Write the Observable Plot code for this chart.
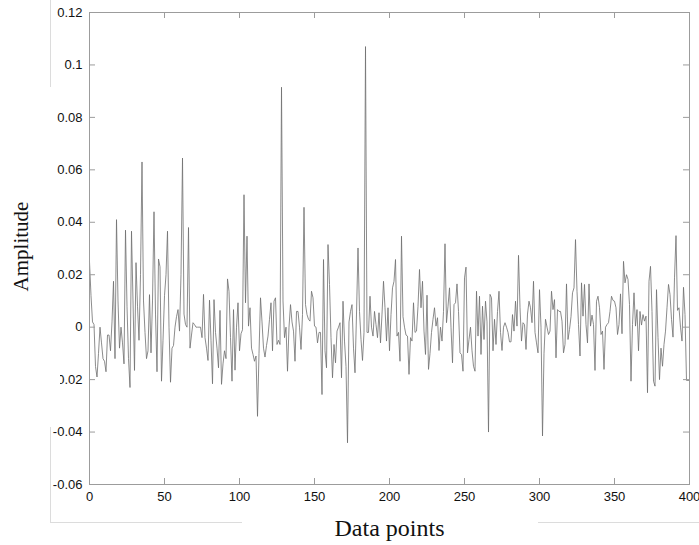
<!DOCTYPE html>
<html>
<head>
<meta charset="utf-8">
<script src="https://cdn.jsdelivr.net/npm/d3@7"></script>
<script src="https://cdn.jsdelivr.net/npm/@observablehq/plot@0.6"></script>
<style>
  html, body { margin: 0; padding: 0; background: #fff; }
</style>
</head>
<body>
<div id="chart"></div>
<script>
// Amplitude of each data point (index 0..400)
const amplitude = [
  0.025, 0.012, 0.002, 0.001, -0.015, -0.019, -0.01, 0.0, -0.006, -0.012,
  -0.013, -0.017, -0.003, -0.003, -0.009, 0.002, 0.0175, -0.012, 0.041, 0.01,
  -0.008, 0.0, -0.006, -0.014, 0.037, 0.008, -0.012, -0.023, 0.0366, 0.01,
  -0.0165, 0.0246, 0.008, -0.005, 0.02, 0.063, 0.01, -0.002, -0.012, -0.009,
  0.0124, -0.0098, 0.01, 0.044, 0.005, -0.017, 0.026, 0.023, -0.0206, -0.005,
  0.012, 0.02, 0.0366, 0.0, -0.021, -0.008, -0.007, 0.0, 0.004, 0.0067,
  -0.0015, 0.02, 0.0645, 0.005, 0.001, 0.0, 0.038, -0.008, -0.003, 0.0017,
  0.001, 0.0, 0.0, 0.0, 0.0, -0.004, 0.0125, -0.004, -0.008, -0.0127,
  0.0103, -0.005, -0.0216, 0.0105, -0.002, -0.008, -0.0155, 0.0064, -0.0218, -0.014,
  -0.009, -0.012, 0.0184, 0.0137, -0.004, -0.0206, 0.0067, -0.0164, 0.0, 0.0093,
  -0.009, -0.0025, -0.001, 0.0505, 0.0093, 0.0347, 0.0004, 0.0074, -0.008, -0.0104,
  -0.013, -0.011, -0.034, -0.01, 0.0112, 0.002, -0.008, -0.0114, -0.007, -0.0034,
  0.003, 0.0093, -0.009, 0.0099, 0.0112, -0.0066, -0.005, -0.0066, 0.0915, 0.01,
  -0.004, 0.0, -0.0168, 0.0, 0.0086, 0.002, -0.0015, -0.013, 0.006, 0.006,
  0.0, -0.0085, 0.0048, 0.0457, 0.0086, 0.0048, 0.003, 0.0023, 0.0137, 0.0112,
  0.0004, 0.0, -0.006, -0.002, -0.002, -0.0257, 0.0258, -0.009, -0.0155, 0.0315,
  0.0163, -0.004, -0.0193, -0.0066, -0.0136, -0.0015, 0.0, 0.0017, -0.0193, 0.0099,
  -0.0053, -0.015, -0.0441, 0.002, 0.006, 0.0086, -0.008, -0.0174, 0.005, 0.0302,
  0.006, -0.0047, -0.0127, -0.002, 0.107, -0.002, -0.002, 0.0118, 0.0, -0.0034,
  0.006, 0.001, -0.004, 0.0055, -0.006, 0.005, 0.0175, 0.0074, -0.0053, 0.0074,
  -0.009, 0.0048, 0.015, 0.0175, 0.0258, -0.0034, -0.002, -0.013, 0.0347, 0.004,
  0.0, -0.003, -0.0034, -0.018, -0.004, -0.0053, 0.0093, -0.002, -0.0015, 0.008,
  0.022, 0.0074, 0.0175, -0.0015, -0.0104, 0.0122, -0.0161, -0.01, -0.002, 0.003,
  0.0074, 0.0004, 0.0036, -0.0089, 0.0, -0.0053, 0.006, 0.0318, 0.0017, 0.008,
  0.015, 0.0, -0.0136, 0.0086, 0.0093, 0.0165, 0.006, -0.0098, -0.0104, -0.0168,
  0.0188, 0.0229, -0.0098, -0.0047, 0.0, -0.009, -0.0149, -0.0168, 0.0137, -0.0034,
  0.0118, -0.0104, 0.008, -0.0047, 0.0099, 0.002, -0.04, 0.0125, 0.0112, -0.009,
  0.003, -0.0066, 0.006, 0.0137, -0.002, -0.0089, 0.0, 0.0017, 0.0, -0.002,
  -0.0056, -0.0056, 0.0048, -0.0015, 0.0099, 0.0004, 0.0274, 0.0074, -0.0053, 0.0017,
  0.001, -0.0085, 0.005, 0.0099, 0.0074, 0.0017, 0.0175, -0.002, -0.006, -0.0098,
  0.0143, 0.0, -0.0415, -0.01, 0.003, 0.0, -0.0028, -0.0015, 0.0137, 0.0067,
  0.0105, -0.0117, 0.0067, 0.006, 0.006, 0.0023, -0.0098, -0.0066, 0.0165, -0.0047,
  -0.0009, 0.004, 0.0131, 0.015, 0.0334, 0.0137, 0.001, -0.011, 0.0169, 0.0042,
  0.0163, 0.001, -0.006, 0.0165, 0.0004, 0.0046, 0.001, -0.0165, 0.0099, 0.0118,
  0.0074, -0.0028, -0.0015, -0.0161, 0.0, 0.001, 0.0017, 0.006, 0.0118, 0.0102,
  0.0099, 0.0074, -0.0028, 0.001, 0.0127, -0.0025, 0.0251, 0.0169, 0.02, 0.0182,
  0.0086, -0.0206, 0.001, 0.0131, 0.0004, 0.0067, -0.009, 0.006, 0.0008, 0.0048,
  0.0023, 0.0042, -0.025, 0.0175, 0.0232, 0.006, -0.0206, -0.0225, 0.0143, -0.004,
  -0.02, -0.008, -0.0149, -0.0066, -0.0015, 0.0074, 0.0163, 0.0125, 0.003, -0.0038,
  0.0188, 0.0349, 0.0064, 0.0074, 0.0, -0.0053, 0.0152, 0.0048, -0.0203, -0.0203,
  -0.0203
];

const xDomain = [0, 400];
const yDomain = [-0.06, 0.12];
const xTicks = [0, 50, 100, 150, 200, 250, 300, 350, 400];
const yTicks = [-0.06, -0.04, -0.02, 0, 0.02, 0.04, 0.06, 0.08, 0.1, 0.12];
const yTickLabels = ["-0.06", "-0.04", "-0.02", "0", "0.02", "0.04", "0.06", "0.08", "0.1", "0.12"];
const xLabel = "Data points";
const yLabel = "Amplitude";

const points = amplitude.map((v, i) => ({index: i, value: v}));

const axisColor = "#9c9c9c";
const tickLen = 6;
const serif = "'Liberation Serif', 'DejaVu Serif', serif";

const chart = Plot.plot({
  width: 699,
  height: 545,
  marginLeft: 89,
  marginRight: 10,
  marginTop: 12,
  marginBottom: 61,
  style: {
    fontFamily: "'Liberation Sans', Arial, sans-serif",
    fontSize: "13px",
    color: "#111",
    background: "#fff"
  },
  x: {domain: xDomain, ticks: xTicks, tickSize: 0, tickPadding: 7, label: null, tickFormat: d => String(d)},
  y: {domain: yDomain, ticks: yTicks, tickSize: 0, tickPadding: 7, label: null,
      tickFormat: d => yTickLabels[yTicks.indexOf(d)]},
  marks: [
    Plot.line(points, {x: "index", y: "value", stroke: "#6e6e6e", strokeWidth: 0.8}),
    Plot.frame({stroke: axisColor}),
    // inward ticks, bottom and top
    Plot.ruleX(xTicks, {x: d => d, y1: yDomain[0], y2: yDomain[0], insetBottom: tickLen, stroke: axisColor}),
    Plot.ruleX(xTicks, {x: d => d, y1: yDomain[1], y2: yDomain[1], insetBottom: -tickLen, stroke: axisColor}),
    // inward ticks, left and right
    Plot.ruleY(yTicks, {y: d => d, x1: xDomain[0], x2: xDomain[0], insetRight: -tickLen, stroke: axisColor}),
    Plot.ruleY(yTicks, {y: d => d, x1: xDomain[1], x2: xDomain[1], insetRight: tickLen, stroke: axisColor}),
    Plot.text([xLabel], {frameAnchor: "bottom", textAnchor: "middle", dy: 51, fontFamily: serif, fontSize: 24, fill: "#111"}),
    Plot.text([yLabel], {frameAnchor: "left", textAnchor: "middle", dx: -68, dy: -2, rotate: -90, fontFamily: serif, fontSize: 21, fill: "#111"})
  ]
});

document.getElementById("chart").appendChild(chart);

// faint remnants of the reference's cut-out boxes (one clips the "-0.02" label)
const svg = d3.select(chart);
svg.insert("rect", "g[aria-label='text']")
  .attr("x", 0).attr("y", 370).attr("width", 60).attr("height", 20).attr("fill", "#fff");
const faint = "#dcdcdc";
[[50.5, 0, 50.5, 87], [50.5, 427, 50.5, 522.5], [50, 522.5, 242, 522.5], [538, 522.5, 699, 522.5]]
  .forEach(([x1, y1, x2, y2]) => {
    svg.append("line").attr("x1", x1).attr("y1", y1).attr("x2", x2).attr("y2", y2)
      .attr("stroke", faint).attr("stroke-width", 1);
  });
</script>
</body>
</html>
